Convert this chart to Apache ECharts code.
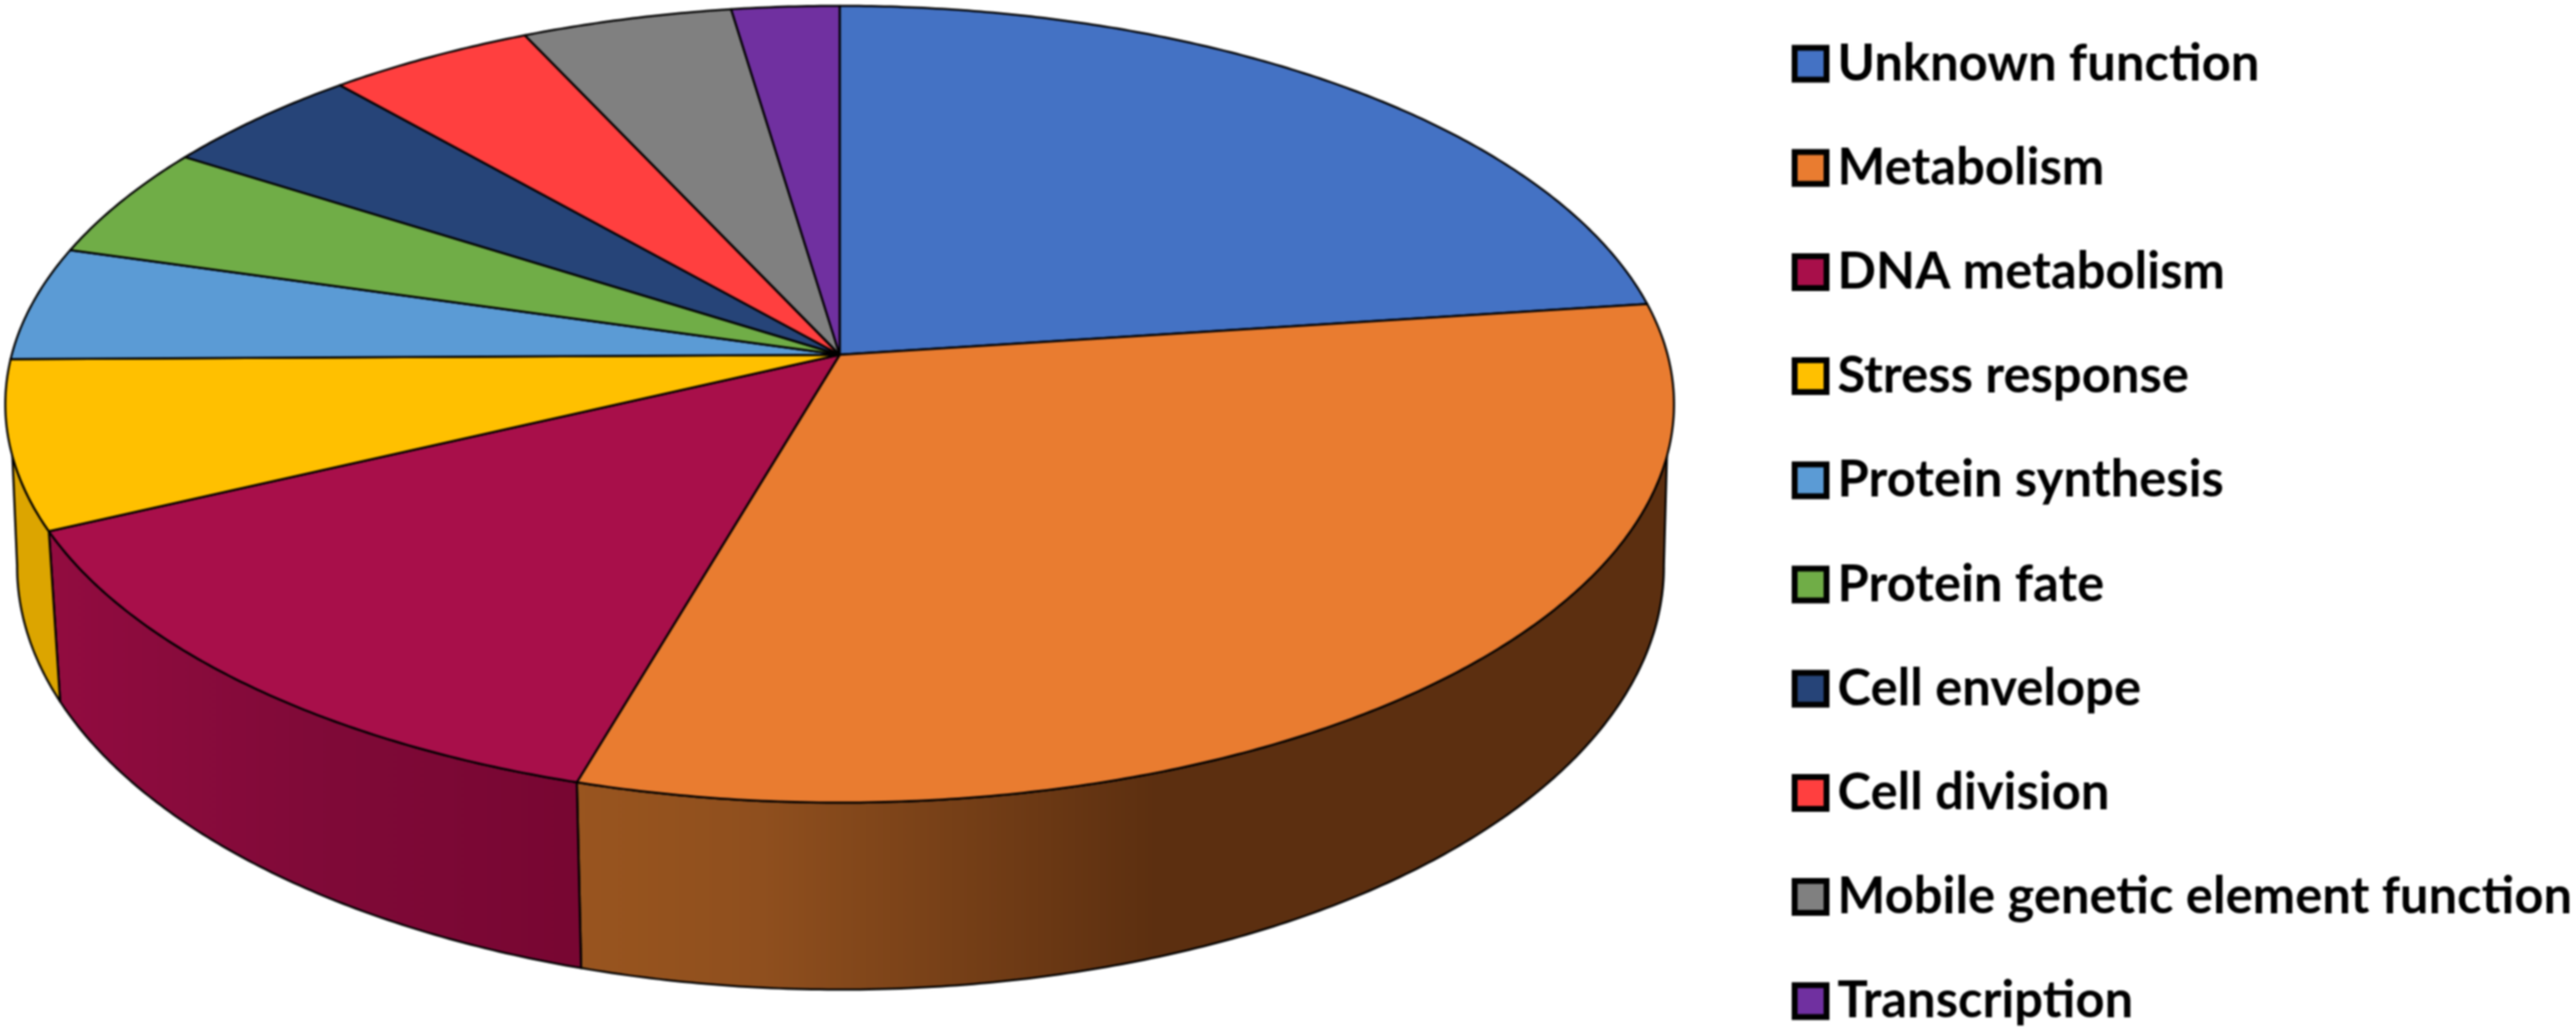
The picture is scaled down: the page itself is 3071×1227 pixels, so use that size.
<!DOCTYPE html>
<html><head><meta charset="utf-8">
<style>html,body{margin:0;padding:0;background:#fff}#c{width:3071px;height:1227px;filter:blur(1.1px)}</style>
<script src="https://cdn.jsdelivr.net/npm/echarts@6/dist/echarts.min.js"></script>
</head><body><div id="c"></div>
<script>
const categories = ['Unknown function','Metabolism','DNA metabolism','Stress response','Protein synthesis','Protein fate','Cell envelope','Cell division','Mobile genetic element function','Transcription'];
const shareValues = [22.9, 31.61, 13.48, 6.83, 4.63, 4.58, 4.5, 4.52, 4.6, 2.35];
const topColors = ['#4472C4','#E97C30','#A80F4A','#FFC000','#5B9BD5','#70AD47','#264478','#FF3F3F','#808080','#7030A0'];
const wallColors = [
  '#335593',
  {type:'linear',x:690,y:0,x2:1380,y2:0,global:true,colorStops:[{offset:0,color:'#99551F'},{offset:0.32,color:'#8F4F1E'},{offset:1,color:'#5C2F10'}]},
  {type:'linear',x:60,y:0,x2:690,y2:0,global:true,colorStops:[{offset:0,color:'#920C40'},{offset:0.5,color:'#800A38'},{offset:1,color:'#780632'}]},
  '#DCA500','#44749F','#548235','#1C335A','#BF2F2F','#606060','#542478'
];
const total = shareValues.reduce((a,b)=>a+b,0);
const starts = []; shareValues.reduce((a,b,i)=>{starts[i]=a;return a+b;},0);
const proj = {x0:1001,y0:423,c:987,a:467.7,b:0.1242, x1:1002,y1:613,c1:974,a1:496.6};
function topPt(t){const u=Math.sin(t),v=-Math.cos(t),w=1-proj.b*v;return [proj.x0+proj.c*u/w,proj.y0+proj.a*v/w];}
function botPt(t){const u=Math.sin(t),v=-Math.cos(t),w=1-proj.b*v;return [proj.x1+proj.c1*u/w,proj.y1+proj.a1*v/w];}
const DEG = Math.PI/180;
const TOP_FROM = 104.5*DEG, TOP_TO = 255.5*DEG, BOT_FROM = 97*DEG, BOT_TO = 263*DEG;
function arc(f,s,e){const n=Math.max(2,Math.ceil((e-s)/(Math.PI/360)));const p=[];for(let i=0;i<=n;i++)p.push(f(s+(e-s)*i/n));return p;}
function renderSlice(params,api){
  const i=params.seriesIndex, val=api.value(0);
  const s=starts[i]/total*2*Math.PI, e=(starts[i]+val)/total*2*Math.PI;
  const children=[];
  const ts=Math.max(s,TOP_FROM), te=Math.min(e,TOP_TO), bs=Math.max(s,BOT_FROM), be=Math.min(e,BOT_TO);
  if(te>ts){
    const pts=arc(topPt,ts,te).concat(arc(botPt,bs,be).reverse());
    children.push({type:'polygon',z2:1,shape:{points:pts},style:{fill:wallColors[i],stroke:'#000',lineWidth:2.5,lineJoin:'round'}});
  }
  const pts=[[proj.x0,proj.y0]].concat(arc(topPt,s,e));
  children.push({type:'polygon',z2:2,shape:{points:pts},style:{fill:topColors[i],stroke:'#000',lineWidth:2.5,lineJoin:'round'}});
  return {type:'group',children};
}
const series = categories.map((name,i)=>({
  name,type:'custom',coordinateSystem:'none',renderItem:renderSlice,silent:true,
  itemStyle:{color:topColors[i]},data:[[shareValues[i]]]
}));
const chart = echarts.init(document.getElementById('c'),null,{renderer:'canvas'});
chart.setOption({
  animation:false,backgroundColor:'#fff',
  legend:{orient:'vertical',left:2136,top:44,height:1183,icon:'rect',itemWidth:38,itemHeight:38,itemGap:60.2,
    data:categories,selectedMode:false,padding:0,
    itemStyle:{borderColor:'#000',borderWidth:7},
    textStyle:{fontFamily:'Lato',fontWeight:'bold',fontSize:60.5,color:'#000',lineHeight:64,padding:[0,0,0,8]}},
  series
});
</script></body></html>
